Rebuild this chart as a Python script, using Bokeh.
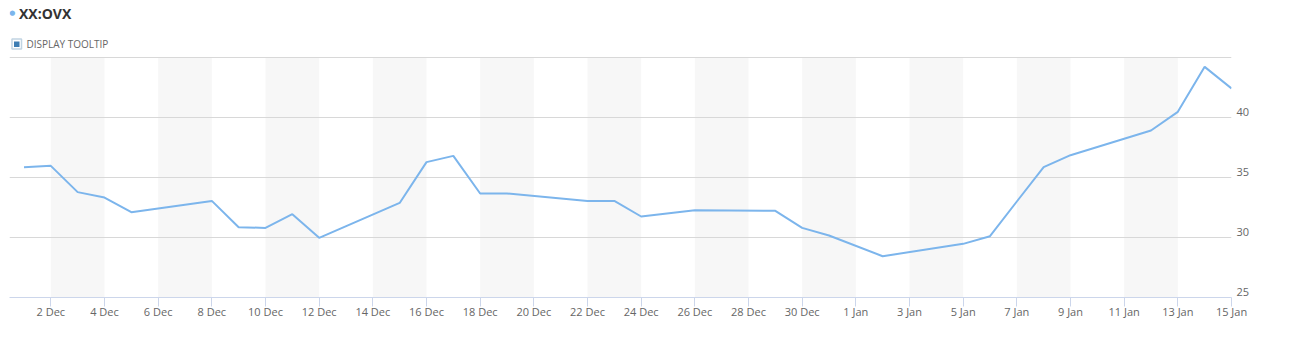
import pandas as pd
from bokeh.plotting import figure
from bokeh.models import (FixedTicker, DatetimeTickFormatter, BoxAnnotation, Label, Range1d)
from bokeh.embed import file_html
from bokeh.resources import INLINE

# ---- data ----
series_name = "XX:OVX"
dates = ["2025-12-01", "2025-12-02", "2025-12-03", "2025-12-04", "2025-12-05",
         "2025-12-08", "2025-12-09", "2025-12-10", "2025-12-11", "2025-12-12",
         "2025-12-15", "2025-12-16", "2025-12-17", "2025-12-18", "2025-12-19",
         "2025-12-22", "2025-12-23", "2025-12-24", "2025-12-26", "2025-12-29",
         "2025-12-30", "2025-12-31", "2026-01-02", "2026-01-05", "2026-01-06",
         "2026-01-07", "2026-01-08", "2026-01-09", "2026-01-12", "2026-01-13",
         "2026-01-14", "2026-01-15"]
values = [35.86, 35.97, 33.78, 33.33, 32.11,
          33.05, 30.86, 30.80, 31.94, 29.97,
          32.88, 36.28, 36.80, 33.67, 33.67,
          33.05, 33.05, 31.75, 32.28, 32.22,
          30.80, 30.17, 28.44, 29.47, 30.11,
          33.00, 35.86, 36.86, 38.92, 40.47,
          44.22, 42.42]
tick_dates = ["2025-12-02", "2025-12-04", "2025-12-06", "2025-12-08", "2025-12-10",
              "2025-12-12", "2025-12-14", "2025-12-16", "2025-12-18", "2025-12-20",
              "2025-12-22", "2025-12-24", "2025-12-26", "2025-12-28", "2025-12-30",
              "2026-01-01", "2026-01-03", "2026-01-05", "2026-01-07", "2026-01-09",
              "2026-01-11", "2026-01-13", "2026-01-15"]
y_ticks = [25, 30, 35, 40, 45]
y_tick_labels = ["25", "30", "35", "40", ""]

# ---- build ----
x = pd.to_datetime(dates)
ticks_ms = [pd.Timestamp(d).value / 1e6 for d in tick_dates]
day_ms = 86400000.0

LINE = "#7cb5ec"
FONT = "Open Sans"
FRAME_H = 297          # frame spans canvas y 0..297
PX_PER_UNIT = 12.0     # 5 units = 60 px
header_units = 57 / PX_PER_UNIT

p = figure(width=1290, height=339, x_axis_type="datetime", y_axis_location="right",
           output_backend="svg", toolbar_location=None,
           min_border_left=9, min_border_right=59, min_border_top=0, min_border_bottom=42)
p.outline_line_color = None
p.background_fill_color = "white"
p.border_fill_color = "white"

p.x_range = Range1d(pd.Timestamp(dates[0]).value / 1e6 - 0.54 * day_ms, ticks_ms[-1])
p.y_range = Range1d(y_ticks[0], y_ticks[-1] + header_units)

# alternating bands
for i in range(0, len(ticks_ms) - 1, 2):
    p.add_layout(BoxAnnotation(left=ticks_ms[i], right=ticks_ms[i + 1],
                               bottom=y_ticks[0], top=y_ticks[-1],
                               fill_color="#f7f7f7", fill_alpha=1.0,
                               line_color=None, level="image"))

p.line(x, values, line_color=LINE, line_width=2)

# x axis
xa = p.xaxis[0]
xa.ticker = FixedTicker(ticks=ticks_ms)
fmt = "%-d %b"
xa.formatter = DatetimeTickFormatter(days=fmt, months=fmt, years=fmt, hours=fmt,
                                     minutes=fmt, seconds=fmt, milliseconds=fmt,
                                     microseconds=fmt, minsec=fmt, hourmin=fmt)
xa.axis_line_color = "#ccd6eb"
xa.major_tick_line_color = "#ccd6eb"
xa.major_tick_out = 9
xa.major_tick_in = 0
xa.minor_tick_line_color = None
xa.minor_tick_out = 0
xa.major_label_standoff = -3
xa.major_label_text_font = FONT
xa.major_label_text_font_size = "11px"
xa.major_label_text_color = "#666666"
p.xgrid.grid_line_color = None

# y axis: labels sit just above their grid lines
label_shift = 6 / PX_PER_UNIT
ya = p.yaxis[0]
label_pos = [t + label_shift for t in y_ticks[:-1]]
ya.ticker = FixedTicker(ticks=label_pos)
ya.major_label_overrides = {pos: lab for pos, lab in zip(label_pos, y_tick_labels)}
ya.axis_line_color = None
ya.major_tick_line_color = None
ya.major_tick_out = 0
ya.major_tick_in = 0
ya.minor_tick_line_color = None
ya.minor_tick_out = 0
ya.major_label_standoff = 5
ya.major_label_text_font = FONT
ya.major_label_text_font_size = "11px"
ya.major_label_text_color = "#666666"
p.ygrid.grid_line_color = "#d8d8d8"
p.ygrid.ticker = FixedTicker(ticks=y_ticks)

# header (screen units relative to frame: x from left, y up from bottom)
p.add_layout(Label(x=2.7, y=FRAME_H - 12.3, x_units="screen", y_units="screen", text="\u25CF",
                   text_color=LINE, text_font="DejaVu Sans", text_font_size="7px",
                   text_baseline="middle", text_align="center"))
p.add_layout(Label(x=9.5, y=FRAME_H - 12.5, x_units="screen", y_units="screen", text=series_name,
                   text_color="#333333", text_font=FONT, text_font_size="14px",
                   text_font_style="bold", text_baseline="middle", text_align="left"))
p.add_layout(BoxAnnotation(left=2.5, right=12, top=FRAME_H - 38.5, bottom=FRAME_H - 48.5,
                           left_units="screen", right_units="screen",
                           top_units="screen", bottom_units="screen",
                           fill_color="white", fill_alpha=1.0,
                           line_color="#336f9f", line_width=1.5))
p.add_layout(BoxAnnotation(left=4.5, right=10, top=FRAME_H - 41, bottom=FRAME_H - 46.5,
                           left_units="screen", right_units="screen",
                           top_units="screen", bottom_units="screen",
                           fill_color="#3d7db3", fill_alpha=1.0, line_color=None))
p.add_layout(Label(x=17, y=FRAME_H - 43.3, x_units="screen", y_units="screen", text="DISPLAY TOOLTIP",
                   text_color="#666666", text_font=FONT, text_font_size="10px",
                   text_baseline="middle", text_align="left"))

open("out.html", "w").write(file_html(p, INLINE))
